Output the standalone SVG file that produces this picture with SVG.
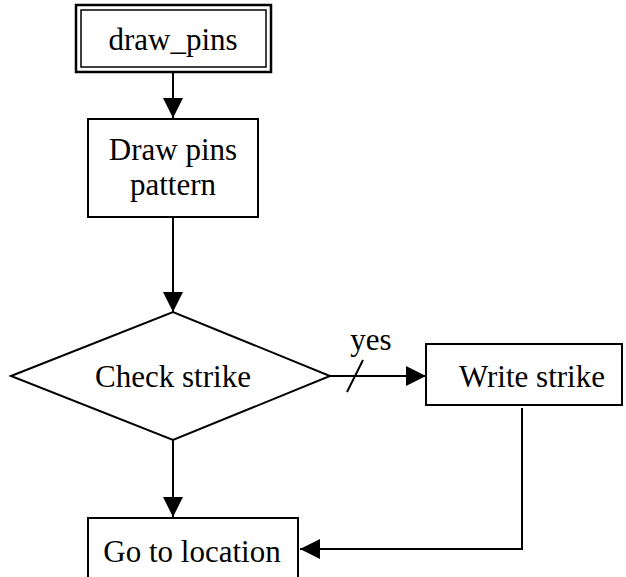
<svg xmlns="http://www.w3.org/2000/svg" width="626" height="577" viewBox="0 0 626 577">
<style>
.box{fill:#fff;stroke:#000;stroke-width:2}
.ln{fill:none;stroke:#000;stroke-width:2}
.t{font-family:"Liberation Serif","Times New Roman",Times,serif;font-size:31px;fill:#000;text-anchor:middle}
</style>
<defs>
<marker id="ah" markerWidth="20" markerHeight="20" refX="20" refY="10" orient="auto" markerUnits="userSpaceOnUse">
<path d="M0,0 L20,10 L0,20 Z" fill="#000"/>
</marker>
</defs>
<rect x="0" y="0" width="626" height="577" fill="#fff"/>
<g id="connectors">
<line class="ln" x1="173" y1="72" x2="173" y2="118" marker-end="url(#ah)"/>
<line class="ln" x1="173" y1="217" x2="173" y2="312" marker-end="url(#ah)"/>
<line class="ln" x1="330" y1="376" x2="426" y2="376" marker-end="url(#ah)"/>
<line class="ln" x1="347" y1="392" x2="363" y2="360"/>
<text class="t" x="371" y="350">yes</text>
<line class="ln" x1="173" y1="440" x2="173" y2="517" marker-end="url(#ah)"/>
<polyline class="ln" points="522,408 522,549 300,549" marker-end="url(#ah)"/>
</g>
<g id="draw_pins">
<rect x="76" y="5" width="195" height="67" fill="#fff" stroke="#000" stroke-width="2.5"/>
<rect x="81" y="10" width="185" height="57" fill="none" stroke="#000" stroke-width="1.5"/>
<text class="t" x="173" y="50">draw_pins</text>
</g>
<g id="draw_pattern">
<rect class="box" x="88" y="119" width="170" height="98"/>
<text class="t" x="173" y="160">Draw pins</text>
<text class="t" x="173" y="195">pattern</text>
</g>
<g id="check_strike">
<polygon class="box" points="11,376 173,312 330,376 173,440"/>
<text class="t" x="173" y="387">Check strike</text>
</g>
<g id="write_strike">
<rect class="box" x="426" y="344" width="196" height="61"/>
<text class="t" x="532" y="387">Write strike</text>
</g>
<g id="go_to_location">
<rect class="box" x="88" y="518" width="210" height="70"/>
<text class="t" x="192" y="562">Go to location</text>
</g>
</svg>
